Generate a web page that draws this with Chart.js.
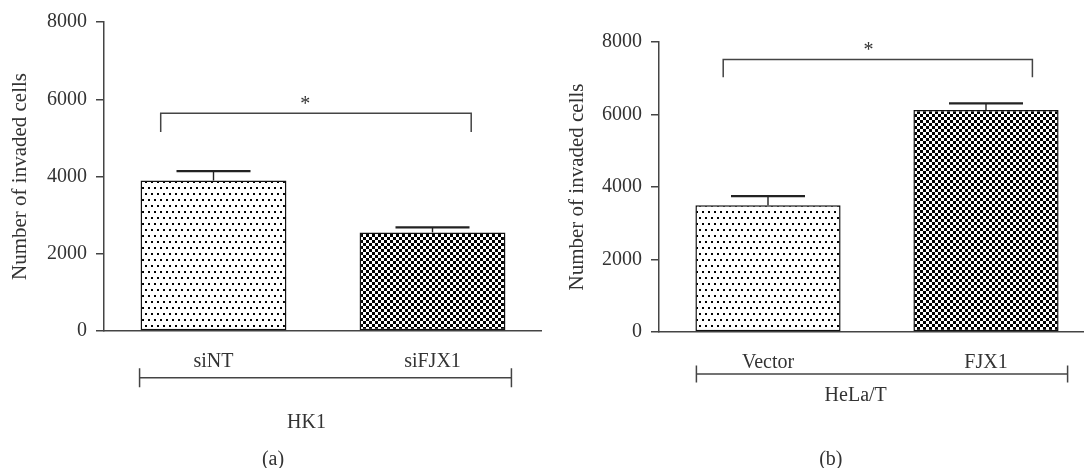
<!DOCTYPE html>
<html>
<head>
<meta charset="utf-8">
<script src="https://cdn.jsdelivr.net/npm/chart.js@4"></script>
<style>
  html, body { margin: 0; padding: 0; background: #fff; width: 1084px; height: 468px; overflow: hidden; }
  .panel { position: absolute; top: 0; height: 468px; }
  #pa { left: 0; width: 542px; }
  #pb { left: 542px; width: 553px; }
</style>
</head>
<body>
<div class="panel" id="pa"><canvas id="ca"></canvas></div>
<div class="panel" id="pb"><canvas id="cb"></canvas></div>
<script>
// ---- data ----
const catsA = ['siNT', 'siFJX1'];
const valsA = [3895, 2553];
const errA = [245, 129];
const sigA = [5640, 5150];      // bracket top value, bracket leg bottom value
const groupA = 'HK1';
const panelA = '(a)';

const catsB = ['Vector', 'FJX1'];
const valsB = [3499, 6122];
const errB = [248, 185];
const sigB = [7520, 7025];
const groupB = 'HeLa/T';
const panelB = '(b)';

const yTicks = [0, 2000, 4000, 6000, 8000];
const yTitle = 'Number of invaded cells';

// ---- styles ----
const FONT = '"Liberation Serif", "Times New Roman", serif';
const TXT = '#333333';
const AX = '#444444';

function dotPattern() {
  const c = document.createElement('canvas');
  c.width = 6; c.height = 12;
  const g = c.getContext('2d');
  g.fillStyle = '#fff'; g.fillRect(0, 0, 6, 12);
  g.fillStyle = '#000';
  g.fillRect(1, 1, 2, 2);
  g.fillRect(4, 7, 2, 2);
  return g.createPattern(c, 'repeat');
}
function checkPattern() {
  const c = document.createElement('canvas');
  c.width = 6; c.height = 6;
  const g = c.getContext('2d');
  g.fillStyle = '#fff'; g.fillRect(0, 0, 6, 6);
  g.fillStyle = '#000';
  g.fillRect(0, 0, 3, 3);
  g.fillRect(3, 3, 3, 3);
  return g.createPattern(c, 'repeat');
}

const annot = {
  id: 'annot',
  afterDatasetsDraw(chart, args, o) {
    const ctx = chart.ctx;
    const y = chart.scales.y;
    const meta = chart.getDatasetMeta(0);
    const bars = meta.data;
    ctx.save();
    // error bars
    o.vals.forEach((v, i) => {
      const cx = bars[i].x;
      const top = y.getPixelForValue(v);
      const et = y.getPixelForValue(v + o.errs[i]);
      ctx.strokeStyle = '#222';
      ctx.lineWidth = 1.4;
      ctx.beginPath(); ctx.moveTo(cx, top); ctx.lineTo(cx, et); ctx.stroke();
      ctx.lineWidth = 2.4;
      ctx.beginPath(); ctx.moveTo(cx - o.cap, et); ctx.lineTo(cx + o.cap, et); ctx.stroke();
    });
    // significance bracket
    const x0 = bars[0].x + o.brL, x1 = bars[1].x + o.brR;
    const yb = y.getPixelForValue(o.sig[0]), yl = y.getPixelForValue(o.sig[1]);
    ctx.strokeStyle = AX; ctx.lineWidth = 1.5;
    ctx.beginPath();
    ctx.moveTo(x0, yl); ctx.lineTo(x0, yb); ctx.lineTo(x1, yb); ctx.lineTo(x1, yl);
    ctx.stroke();
    ctx.fillStyle = TXT;
    ctx.font = '20px ' + FONT;
    ctx.textAlign = 'center';
    ctx.textBaseline = 'alphabetic';
    ctx.fillText('*', (x0 + x1) / 2 + o.starDx, yb - 3);
    // group line
    const gl = bars[0].x - bars[0].width / 2 + o.gL;
    const gr = bars[1].x + bars[1].width / 2 + o.gR;
    ctx.strokeStyle = AX; ctx.lineWidth = 1.5;
    ctx.beginPath(); ctx.moveTo(gl, o.gy); ctx.lineTo(gr, o.gy); ctx.stroke();
    ctx.beginPath();
    ctx.moveTo(gl, o.gy - o.gt); ctx.lineTo(gl, o.gy + o.gt);
    ctx.moveTo(gr, o.gy - o.gt); ctx.lineTo(gr, o.gy + o.gt);
    ctx.stroke();
    // texts
    ctx.font = '20px ' + FONT;
    ctx.textBaseline = 'middle';
    ctx.fillText(o.group, o.groupX, o.groupY);
    ctx.fillText(o.panel, o.panelX, o.panelY);
    ctx.restore();
  }
};

function makeChart(id, cats, vals, opts) {
  return new Chart(document.getElementById(id), {
    type: 'bar',
    data: {
      labels: cats,
      datasets: [{
        data: vals,
        backgroundColor: [dotPattern(), checkPattern()],
        borderColor: '#111',
        borderWidth: 1.5,
        borderSkipped: false,
        categoryPercentage: 1,
        barPercentage: 0.666
      }]
    },
    options: {
      responsive: true,
      maintainAspectRatio: false,
      animation: false,
      events: [],
      layout: { padding: { top: opts.top, left: 0, right: 0, bottom: 0 } },
      plugins: {
        legend: { display: false },
        tooltip: { enabled: false },
        annot: opts.annot
      },
      scales: {
        x: {
          grid: { display: false },
          border: { display: true, color: AX, width: 1.5 },
          ticks: { color: TXT, font: { family: FONT, size: 20 }, padding: 11 },
          afterFit(s) { s.height = opts.xh; }
        },
        y: {
          min: 0, max: 8000,
          afterBuildTicks(s) { s.ticks = yTicks.map(v => ({ value: v })); },
          grid: { display: true, drawOnChartArea: false, drawTicks: true, tickLength: 8, color: AX, lineWidth: 1.5 },
          border: { display: true, color: AX, width: 1.5 },
          ticks: { color: TXT, font: { family: FONT, size: 20 }, padding: 9, callback: v => String(v) },
          title: { display: true, text: yTitle, color: TXT, font: { family: FONT, size: 21 }, padding: { top: opts.titlePad, bottom: 0 } },
          afterFit(s) { s.width = opts.yw; }
        }
      }
    },
    plugins: [annot]
  });
}

makeChart('ca', catsA, valsA, {
  top: 22, xh: 137, yw: 104, titlePad: 8,
  annot: {
    vals: valsA, errs: errA, sig: sigA, cap: 37,
    brL: -52.8, brR: 38.7, starDx: -10.6,
    gL: -1, gR: 6, gy: 377.7, gt: 9.5,
    group: groupA, groupX: 306.5, groupY: 423,
    panel: panelA, panelX: 273, panelY: 460
  }
});
makeChart('cb', catsB, valsB, {
  top: 42, xh: 136, yw: 117, titlePad: 23,
  annot: {
    vals: valsB, errs: errB, sig: sigB, cap: 37,
    brL: -44.8, brR: 46.4, starDx: -9.4,
    gL: 1, gR: 9, gy: 374, gt: 8.5,
    group: groupB, groupX: 313.7, groupY: 396,
    panel: panelB, panelX: 288.8, panelY: 460
  }
});
</script>
</body>
</html>
